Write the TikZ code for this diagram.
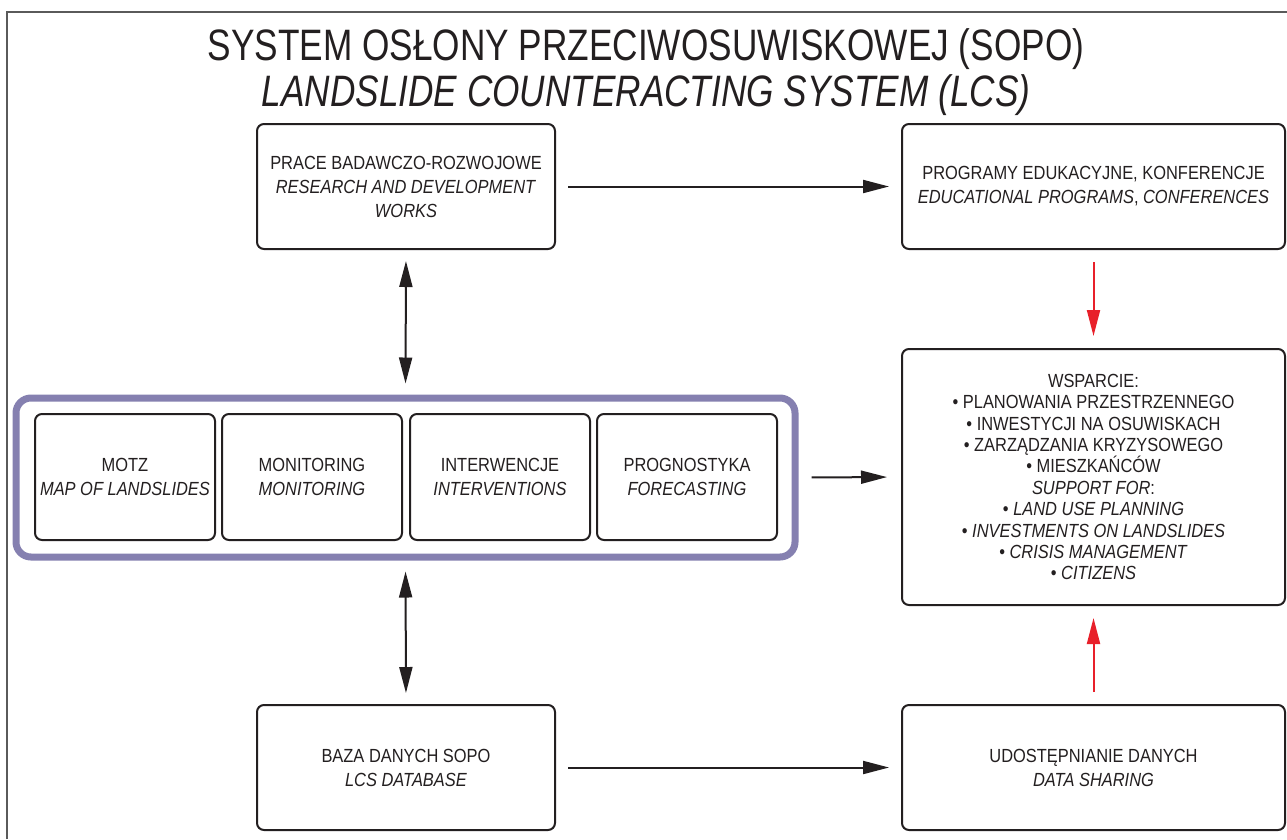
\documentclass[tikz,border=0pt]{standalone}
\usepackage{fontspec}
\setmainfont{Liberation Sans}[FakeStretch=0.865]
\newfontfamily\titlefont{Liberation Sans}[FakeStretch=0.80]
\usetikzlibrary{arrows.meta}
\definecolor{ink}{RGB}{35,31,32}
\definecolor{lav}{RGB}{133,128,176}
\definecolor{redarr}{RGB}{232,32,42}
\definecolor{framegray}{RGB}{90,90,90}
\tikzset{
  box/.style={draw=ink, line width=2pt, rounded corners=7pt, inner sep=0pt, align=center,
    font=\fontsize{19}{24}\selectfont, text=ink},
  smallbox/.style={box, minimum width=180pt, minimum height=126pt},
  arr/.style={draw=ink, line width=2pt, -{Triangle[length=26pt,width=13pt]}, shorten >=12pt, shorten <=12pt},
  darr/.style={draw=ink, line width=2pt, {Triangle[length=26pt,width=13pt]}-{Triangle[length=26pt,width=13pt]}, shorten >=11pt, shorten <=11pt},
  redarrow/.style={draw=redarr, line width=2pt, -{Triangle[length=26pt,width=13pt]}, shorten >=12pt, shorten <=12pt},
}
\begin{document}
\begin{tikzpicture}[x=1pt,y=-1pt]
\useasboundingbox (0,0) rectangle (1287,839);
\fill[white] (0,0) rectangle (1287,839);
% page frame
\draw[framegray, line width=1.6pt] (7,839) -- (7,12) -- (1287,12);
% title
\node[align=center, text=ink, font=\titlefont\fontsize{44}{45.5}\selectfont] (title) at (646,72)
  {SYSTEM OSŁONY PRZECIWOSUWISKOWEJ (SOPO)\\\textit{LANDSLIDE COUNTERACTING SYSTEM (LCS)}};
% boxes
\node[box, minimum width=298pt, minimum height=125pt] (rd) at (406,186.5)
  {PRACE BADAWCZO-ROZWOJOWE\\\textit{RESEARCH AND DEVELOPMENT}\\\textit{WORKS}};
\node[box, minimum width=383pt, minimum height=125pt] (edu) at (1093.5,186.5)
  {PROGRAMY EDUKACYJNE, KONFERENCJE\\\textit{EDUCATIONAL PROGRAMS}, \textit{CONFERENCES}};
\node[box, minimum width=383pt, minimum height=256pt, font=\fontsize{19}{21.4}\selectfont] (wsp) at (1093.5,477)
  {WSPARCIE:\\• PLANOWANIA PRZESTRZENNEGO\\• INWESTYCJI NA OSUWISKACH\\• ZARZĄDZANIA KRYZYSOWEGO\\• MIESZKAŃCÓW\\\textit{SUPPORT FOR}:\\• \textit{LAND USE PLANNING}\\• \textit{INVESTMENTS ON LANDSLIDES}\\• \textit{CRISIS MANAGEMENT}\\• \textit{CITIZENS}};
\node[box, minimum width=383pt, minimum height=125pt] (udo) at (1093.5,767.5)
  {UDOSTĘPNIANIE DANYCH\\\textit{DATA SHARING}};
\node[box, minimum width=298pt, minimum height=125pt] (baza) at (406,767.5)
  {BAZA DANYCH SOPO\\\textit{LCS DATABASE}};
% purple group
\node[draw=lav, line width=7pt, rounded corners=15pt, minimum width=779pt, minimum height=159pt, inner sep=0pt] (grp) at (405.5,477.5) {};
\node[smallbox] (motz) at (125,477) {MOTZ\\\textit{MAP OF LANDSLIDES}};
\node[smallbox] (mon) at (312,477) {MONITORING\\\textit{MONITORING}};
\node[smallbox] (int) at (500,477) {INTERWENCJE\\\textit{INTERVENTIONS}};
\node[smallbox] (prog) at (687,477) {PROGNOSTYKA\\\textit{FORECASTING}};
% connectors
\draw[arr] (rd.east) -- (edu.west);
\draw[arr] (baza.east) -- (udo.west);
\draw[arr, shorten <=13pt, shorten >=14pt] (grp.east) -- (wsp.west);
\draw[darr] (rd.south) -- (grp.north);
\draw[darr] (grp.south) -- (baza.north);
\draw[redarrow] (edu.south) -- (wsp.north);
\draw[redarrow] (udo.north) -- (wsp.south);
\end{tikzpicture}
\end{document}
